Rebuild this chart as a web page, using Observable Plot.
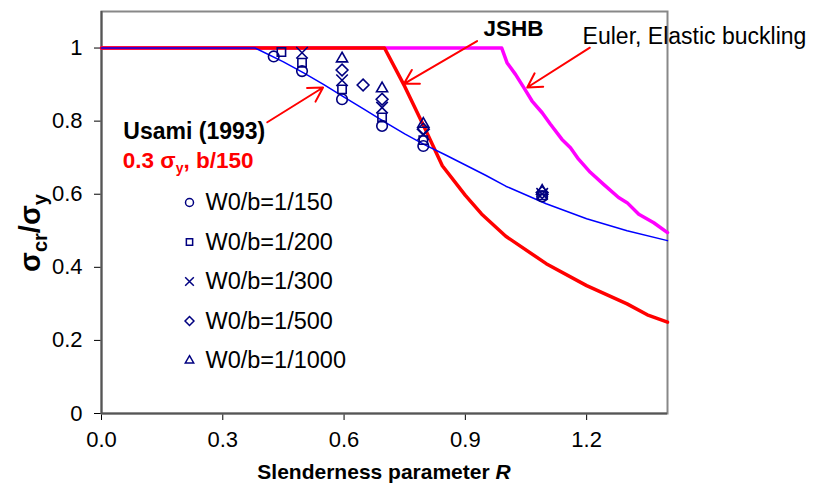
<!DOCTYPE html>
<html><head><meta charset="utf-8">
<script src="https://cdn.jsdelivr.net/npm/d3@7"></script>
<script src="https://cdn.jsdelivr.net/npm/@observablehq/plot@0.6"></script>
<style>
body{margin:0;background:#fff;}
svg text{font-family:"Liberation Sans",Arial,sans-serif;}
</style></head>
<body><div id="chart"></div>
<script>
// Euler elastic buckling curve
const eulerR = [0, 0.99, 1.003, 1.024, 1.045, 1.065, 1.09, 1.11, 1.139, 1.16, 1.18, 1.209, 1.242, 1.279, 1.3, 1.329, 1.366, 1.4];
const eulerS = [1, 1, 0.96, 0.928, 0.891, 0.855, 0.823, 0.792, 0.75, 0.727, 0.696, 0.66, 0.627, 0.591, 0.577, 0.545, 0.522, 0.495];
// JSHB curve
const jshbR = [0, 0.7, 0.75, 0.8, 0.843, 0.9, 0.94, 1.0, 1.1, 1.2, 1.3, 1.35, 1.4];
const jshbS = [1, 1, 0.895, 0.78, 0.678, 0.597, 0.546, 0.485, 0.41, 0.35, 0.3, 0.27, 0.25];
// Usami (1993) curve
const usamiR = [0, 0.38, 0.45, 0.5, 0.55, 0.6, 0.65, 0.7, 0.75, 0.8, 0.85, 0.9, 0.95, 1.0, 1.1, 1.2, 1.3, 1.4];
const usamiS = [1, 1, 0.962, 0.932, 0.9, 0.866, 0.832, 0.798, 0.765, 0.735, 0.708, 0.68, 0.652, 0.622, 0.574, 0.533, 0.5, 0.473];
// Analysis results
const seriesNames = ["W0/b=1/150", "W0/b=1/200", "W0/b=1/300", "W0/b=1/500", "W0/b=1/1000"];
const seriesSymbols = ["circle", "square2", "times", "diamond2", "triangle2"];
const r150 = [0.426, 0.496, 0.595, 0.694, 0.796, 1.09];
const s150 = [0.977, 0.937, 0.86, 0.787, 0.732, 0.594];
const r200 = [0.445, 0.496, 0.595, 0.694, 0.796, 1.09];
const s200 = [0.989, 0.96, 0.887, 0.81, 0.748, 0.597];
const r300 = [0.496, 0.595, 0.694, 0.796, 1.09];
const s300 = [0.987, 0.912, 0.837, 0.764, 0.601];
const r500 = [0.595, 0.647, 0.694, 0.796, 1.09];
const s500 = [0.94, 0.899, 0.86, 0.778, 0.605];
const r1000 = [0.595, 0.694, 0.796, 1.09];
const s1000 = [0.971, 0.889, 0.792, 0.609];
const xTicks = [0, 0.3, 0.6, 0.9, 1.2];
const yTicks = [0, 0.2, 0.4, 0.6, 0.8, 1];

const toPts = (xs, ys) => xs.map((x, i) => ({x, y: ys[i]}));
const pointSets = [toPts(r150, s150), toPts(r200, s200), toPts(r300, s300), toPts(r500, s500), toPts(r1000, s1000)];
const navy = "#000080";

// annotation arrows (data coords)
const arrows = [
  {x1: 0.929, y1: 1.019, x2: 0.748, y2: 0.902},
  {x1: 1.208, y1: 1.001, x2: 1.053, y2: 0.892},
  {x1: 0.41, y1: 0.797, x2: 0.548, y2: 0.892}
];

const legendMarks = [];
seriesNames.forEach((name, i) => {
  legendMarks.push(Plot.dot([0], {frameAnchor: "top-left", dx: 88, dy: 191 + i * 39.5, symbol: () => seriesSymbols[i], r: 4, stroke: navy, strokeWidth: 1.5, fill: "none"}));
  legendMarks.push(Plot.text([name], {frameAnchor: "top-left", dx: 104, dy: 191 + i * 39.5, text: d => d, textAnchor: "start", lineAnchor: "middle", fontSize: 23.5, fill: "black"}));
});

const plot = Plot.plot({
  width: 815, height: 491,
  marginLeft: 101, marginRight: 148, marginTop: 11, marginBottom: 78,
  style: {fontSize: "22px", fontFamily: "Liberation Sans, Arial, sans-serif", color: "black", background: "white", overflow: "visible"},
  x: {domain: [0, 1.4], ticks: xTicks, tickFormat: d3.format(".1f"), tickSize: 7, tickPadding: 11, label: null},
  y: {domain: [0, 1.1], ticks: yTicks, tickFormat: d => String(+d.toFixed(1)), tickSize: 7, tickPadding: 12, label: null},
  symbol: {type: "identity"},
  marks: [
    Plot.frame({stroke: "#888", strokeWidth: 2}),
    Plot.ruleX([0], {stroke: "#555", strokeWidth: 2}),
    Plot.ruleY([0], {stroke: "#555", strokeWidth: 2}),
    Plot.line(toPts(eulerR, eulerS), {x: "x", y: "y", stroke: "#ff00ff", strokeWidth: 3.5}),
    Plot.line(toPts(jshbR, jshbS), {x: "x", y: "y", stroke: "#ff0000", strokeWidth: 3.5}),
    Plot.line(toPts(usamiR, usamiS), {x: "x", y: "y", stroke: "#0000ff", strokeWidth: 1.5}),
    ...pointSets.map((pts, i) => Plot.dot(pts, {x: "x", y: "y", symbol: () => seriesSymbols[i], r: 5.3, stroke: navy, strokeWidth: 1.6, fill: "none"})),
    Plot.arrow(arrows, {x1: "x1", y1: "y1", x2: "x2", y2: "y2", stroke: "#ff0000", strokeWidth: 2, headLength: 12}),
    Plot.text(["JSHB"], {x: 0.945, y: 1.053, text: d => d, textAnchor: "start", lineAnchor: "middle", fontWeight: "bold", fontSize: 22.5, fill: "black"}),
    Plot.text(["Euler, Elastic buckling"], {x: 1.19, y: 1.031, text: d => d, textAnchor: "start", lineAnchor: "middle", fontSize: 23, fill: "black"}),
    Plot.text(["Usami (1993)"], {x: 0.054, y: 0.771, text: d => d, textAnchor: "start", lineAnchor: "middle", fontWeight: "bold", fontSize: 23, fill: "black"}),
    ...legendMarks
  ]
});

document.getElementById("chart").appendChild(plot);
const svg = d3.select(plot);
const sx = plot.scale("x"), sy = plot.scale("y");

// red annotation with subscript
const t1 = svg.append("text")
  .attr("x", sx.apply(0.054)).attr("y", sy.apply(0.692) + 8)
  .attr("text-anchor", "start")
  .attr("fill", "#ff0000").attr("font-weight", "bold").attr("font-size", 22.5);
t1.append("tspan").text("0.3 σ");
t1.append("tspan").attr("font-size", 14).attr("dy", 5).text("y");
t1.append("tspan").attr("dy", -5).text(", b/150");

// y axis label
const yl = svg.append("text")
  .attr("transform", "translate(40,233) rotate(-90)")
  .attr("text-anchor", "middle").attr("font-weight", "bold").attr("font-size", 29).attr("fill", "black");
yl.append("tspan").text("σ");
yl.append("tspan").attr("font-size", 20).attr("dy", 7).text("cr");
yl.append("tspan").attr("dy", -7).text("/σ");
yl.append("tspan").attr("font-size", 20).attr("dy", 7).text("y");

// x axis label
const xl = svg.append("text")
  .attr("x", (sx.apply(0) + sx.apply(1.4)) / 2).attr("y", 479)
  .attr("text-anchor", "middle").attr("font-weight", "bold").attr("font-size", 21).attr("fill", "black");
xl.append("tspan").text("Slenderness parameter ");
xl.append("tspan").attr("font-style", "italic").text("R");
</script>
</body></html>
